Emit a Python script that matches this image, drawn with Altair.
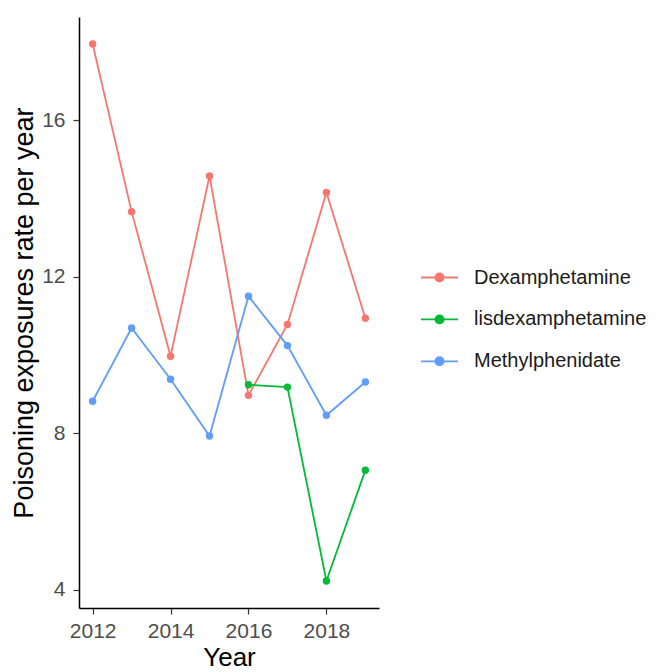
import altair as alt
import pandas as pd

years = [2012, 2013, 2014, 2015, 2016, 2017, 2018, 2019]
dexamphetamine = [17.94, 13.66, 9.97, 14.57, 8.97, 10.78, 14.15, 10.94]
methylphenidate = [8.82, 10.69, 9.38, 7.93, 11.50, 10.24, 8.46, 9.31]
lis_years = [2016, 2017, 2018, 2019]
lisdexamphetamine = [9.24, 9.18, 4.23, 7.06]

series_names = ["Dexamphetamine", "lisdexamphetamine", "Methylphenidate"]
series_colors = ["#F8766D", "#00BA38", "#619CFF"]

rows = []
for y, v in zip(years, dexamphetamine):
    rows.append({"Year": y, "rate": v, "drug": "Dexamphetamine"})
for y, v in zip(lis_years, lisdexamphetamine):
    rows.append({"Year": y, "rate": v, "drug": "lisdexamphetamine"})
for y, v in zip(years, methylphenidate):
    rows.append({"Year": y, "rate": v, "drug": "Methylphenidate"})
df = pd.DataFrame(rows)

FONT = "Liberation Sans"
sym_path = "M-1,0H1M0.22,0A0.22,0.22,0,1,1,-0.22,0A0.22,0.22,0,1,1,0.22,0Z"

x_enc = alt.X(
    "Year:Q",
    scale=alt.Scale(domain=[2011.65, 2019.35], nice=False, zero=False),
    axis=alt.Axis(
        values=[2012, 2014, 2016, 2018], format="d", title="Year",
        labelFlush=False, labelOverlap=False,
        labelFontSize=21, labelColor="#4D4D4D", labelFont=FONT, labelPadding=6,
        tickSize=6, tickColor="#333333", tickWidth=1.2,
        domainColor="#000000", domainWidth=1.5,
        titleFontSize=26, titleFont=FONT, titleFontWeight="normal", titleColor="#000000",
        titleY=57, titleBaseline="alphabetic",
    ),
)
y_enc = alt.Y(
    "rate:Q",
    scale=alt.Scale(domain=[3.54, 18.63], nice=False, zero=False),
    axis=alt.Axis(
        values=[4, 8, 12, 16], title="Poisoning exposures rate per year",
        labelFontSize=21, labelColor="#4D4D4D", labelFont=FONT, labelPadding=8,
        tickSize=6, tickColor="#333333", tickWidth=1.2,
        domainColor="#000000", domainWidth=1.5,
        titleFontSize=27, titleFont=FONT, titleFontWeight="normal", titleColor="#000000",
        titleX=-47, titleBaseline="alphabetic",
    ),
)
scale = alt.Scale(domain=series_names, range=series_colors)
legend = alt.Legend(
    title=None, orient="none", legendX=341, legendY=241, padding=0,
    symbolType=sym_path, symbolSize=1369, symbolStrokeWidth=1.8, symbolOpacity=1,
    rowPadding=11.9, labelOffset=15, labelLimit=300,
    labelFontSize=20, labelFont=FONT, labelColor="#1A1A1A",
)

lines = alt.Chart(df).mark_line(strokeWidth=1.8).encode(
    x=x_enc, y=y_enc, stroke=alt.Stroke("drug:N", scale=scale, legend=legend)
)
points = alt.Chart(df).mark_point(filled=True, size=55, opacity=1).encode(
    x=x_enc, y=y_enc, fill=alt.Fill("drug:N", scale=scale, legend=legend)
)

chart = (
    alt.layer(lines, points)
    .properties(
        width=300, height=591,
        autosize=alt.AutoSizeParams(type="none"),
        padding={"left": 71, "top": 9, "right": 270, "bottom": 62},
    )
    .configure_view(stroke=None)
    .configure_axis(grid=False)
)

chart.save("out.html", embed_options={"renderer": "svg", "actions": False})
